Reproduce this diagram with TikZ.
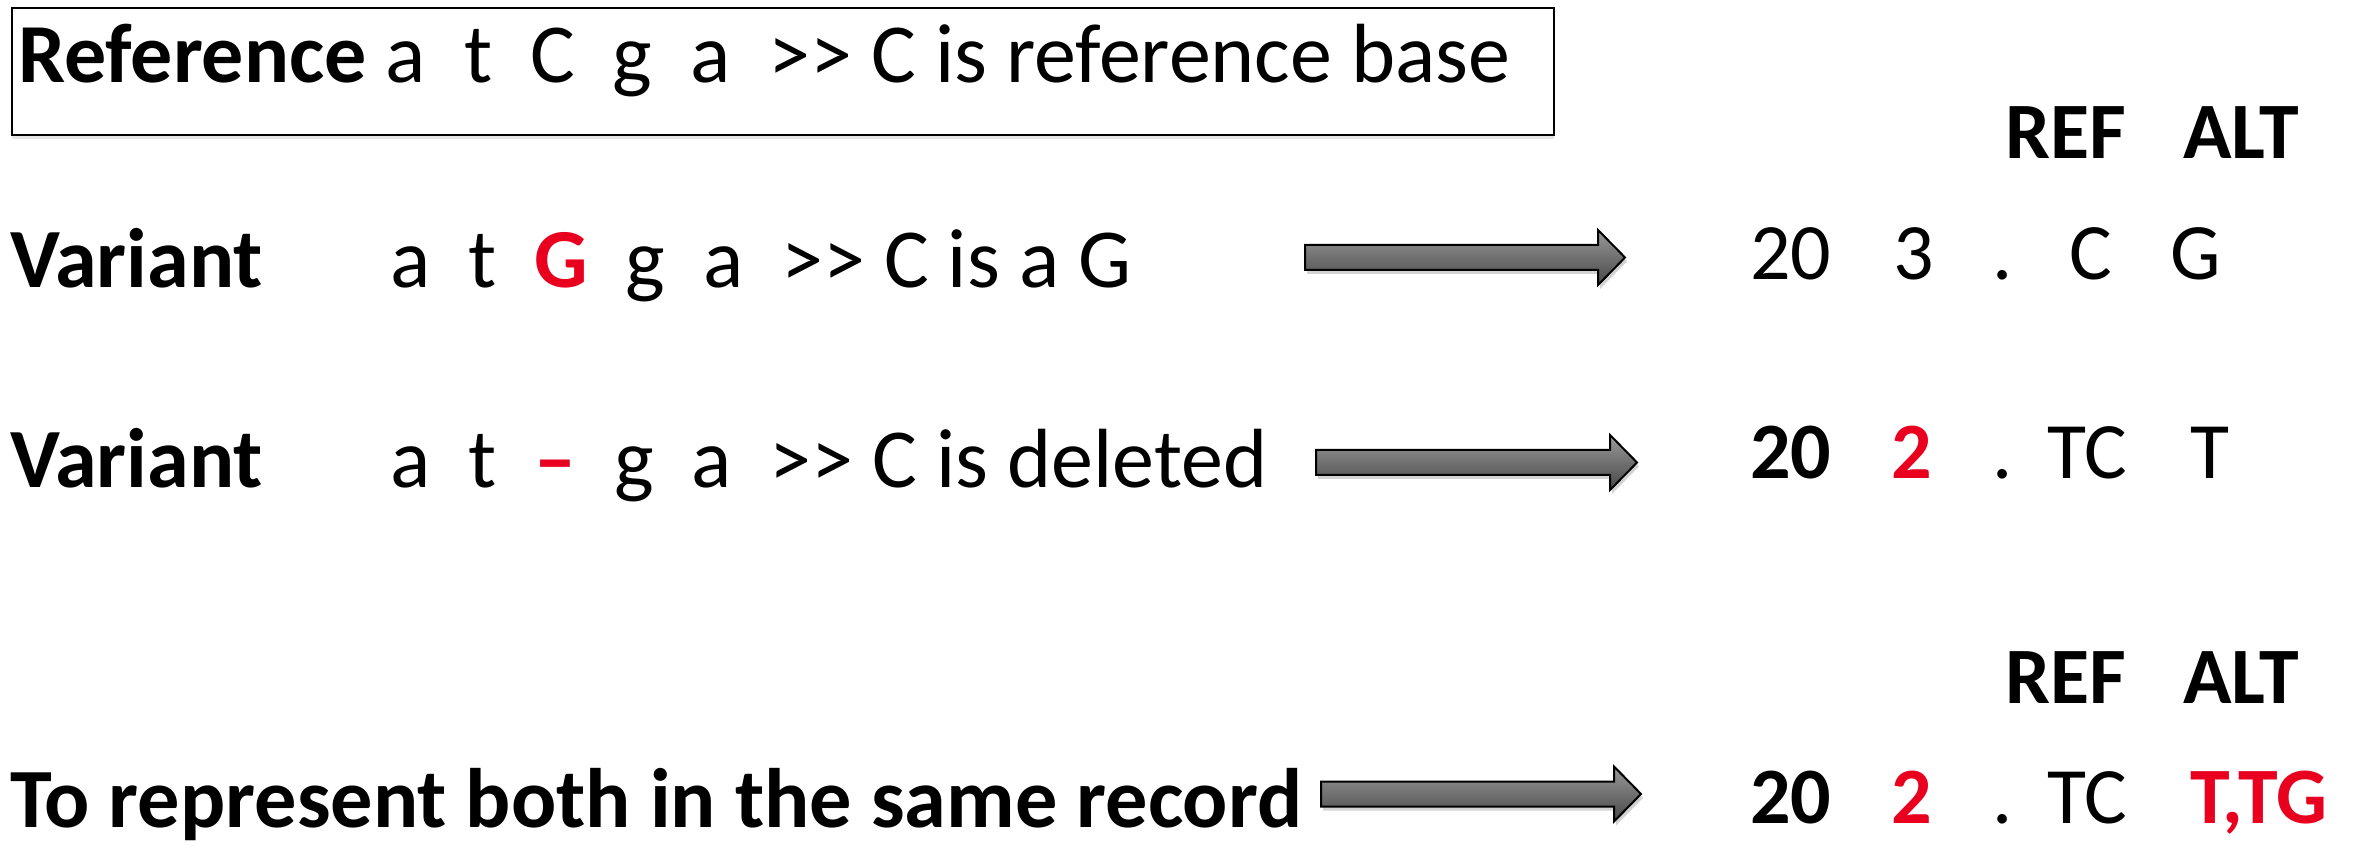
\documentclass[tikz,border=0pt]{standalone}
\usepackage{fontspec}
\setmainfont{Carlito}
\usetikzlibrary{calc,shadows}
\definecolor{snpred}{RGB}{232,0,30}

% block arrow from #1 to #2 (tip), sizes in px
\newcommand\flowarrow[2]{%
  \draw[flow] ($(#1)+(0,-12.5)$) -- ($(#2)+(-27,-12.5)$) -- ($(#2)+(-27,-27.5)$)
    -- (#2) -- ($(#2)+(-27,27.5)$) -- ($(#2)+(-27,12.5)$) -- ($(#1)+(0,12.5)$) -- cycle;}
\newcommand\gtgt{{>}{>}}

\begin{document}
\begin{tikzpicture}[x=0.3pt,y=-0.3pt,
  every node/.style={inner sep=0pt,outer sep=0pt,anchor=base west},
  txt/.style={font=\fontsize{24}{29}\selectfont},
  hd/.style={font=\fontsize{24}{29}\selectfont\bfseries},
  ltxt/.style={font=\fontsize{25.2}{30}\selectfont},
  lhd/.style={font=\fontsize{25.3}{30}\selectfont\bfseries},
  hot/.style={text=snpred},
  flow/.style={line width=0.6pt,top color=black!40,bottom color=black!72,
    drop shadow={shadow xshift=0.6pt,shadow yshift=-1.2pt,opacity=0.35}},
  framebox/.style={draw,line width=0.6pt,anchor=north west,
    drop shadow={shadow xshift=0pt,shadow yshift=-1.2pt,opacity=0.2},fill=white}]
  \useasboundingbox (0,0) rectangle (2359,847);

  % reference line in its box
  \node[framebox,minimum width=462.6pt,minimum height=38.1pt](refbox) at (12,8){};
  \node[ltxt](reftxt) at (18,83){\textbf{Reference}~a~~t~~C~~g~~a~~\gtgt~C is reference base};

  % first variant: substitution
  \node[lhd](var1) at (10,288){Variant};
  \node[ltxt](seq1) at (390,288){a~~t~~\textcolor{snpred}{\textbf{G}}~~g~~a~~\gtgt~C is a G};
  \coordinate (a1s) at (1305,257.5); \coordinate (a1e) at (1625,257.5);
  \flowarrow{a1s}{a1e}
  \node[hd](ref1) at (2005,159){REF};
  \node[hd](alt1) at (2183,159){ALT};
  \node[txt](chr1) at (1750,280){20};
  \node[txt](pos1) at (1893,280){3};
  \node[txt](id1) at (1992,280){.};
  \node[txt](rb1) at (2069,280){C};
  \node[txt](ab1) at (2170,280){G};

  % second variant: deletion
  \node[lhd](var2) at (10,487){Variant};
  \node[ltxt](seq2) at (390,487){a~~t~~\textcolor{snpred}{\textbf{--}}~~g~~a~~\gtgt~C is deleted};
  \coordinate (a2s) at (1316,462.5); \coordinate (a2e) at (1637,462.5);
  \flowarrow{a2s}{a2e}
  \node[hd](chr2) at (1750,479){20};
  \node[hd,hot](pos2) at (1891,479){2};
  \node[txt](id2) at (1992,479){.};
  \node[txt](rb2) at (2047,479){TC};
  \node[txt](ab2) at (2190,479){T};

  % both in one record
  \node[lhd](both) at (10,827){To represent both in the same record};
  \coordinate (a3s) at (1321,794); \coordinate (a3e) at (1641,794);
  \flowarrow{a3s}{a3e}
  \node[hd](ref3) at (2005,703){REF};
  \node[hd](alt3) at (2183,703){ALT};
  \node[hd](chr3) at (1750,823){20};
  \node[hd,hot](pos3) at (1891,823){2};
  \node[txt](id3) at (1992,823){.};
  \node[txt](rb3) at (2047,823){TC};
  \node[hd,hot](ab3) at (2190,823){T,TG};
\end{tikzpicture}
\end{document}
